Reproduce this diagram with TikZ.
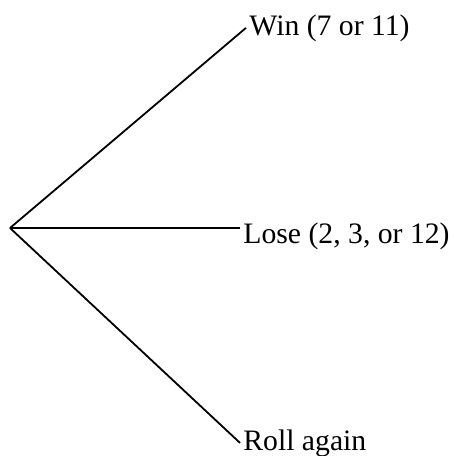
\documentclass[tikz,border=0pt]{standalone}
\usepackage{fontspec}
\setmainfont{Liberation Serif}
\usepackage{tikz}
\usetikzlibrary{
  positioning,
  calc
}
\tikzset{
  branch/.style={line width=0.9pt},
  outcome/.style={anchor=base west,inner sep=1.5pt,font=\fontsize{14.85}{18}\selectfont}
}

\begin{document}
\begin{tikzpicture}[x=0.5pt, y=-0.5pt]
    \useasboundingbox (0,0) rectangle (454,456);
    \coordinate (root) at (10,228);
    \node[outcome] (win) at (246,35) {Win (7 or 11)};
    \node[outcome] (lose) at (240,243) {Lose (2, 3, or 12)};
    \node[outcome] (roll) at (240,450) {Roll again};

    \draw[branch] (root) -- (win.west);
    \draw[branch] (root) -- (root -| lose.west);
    \draw[branch] (root) -- (roll.west);
\end{tikzpicture}
\end{document}
